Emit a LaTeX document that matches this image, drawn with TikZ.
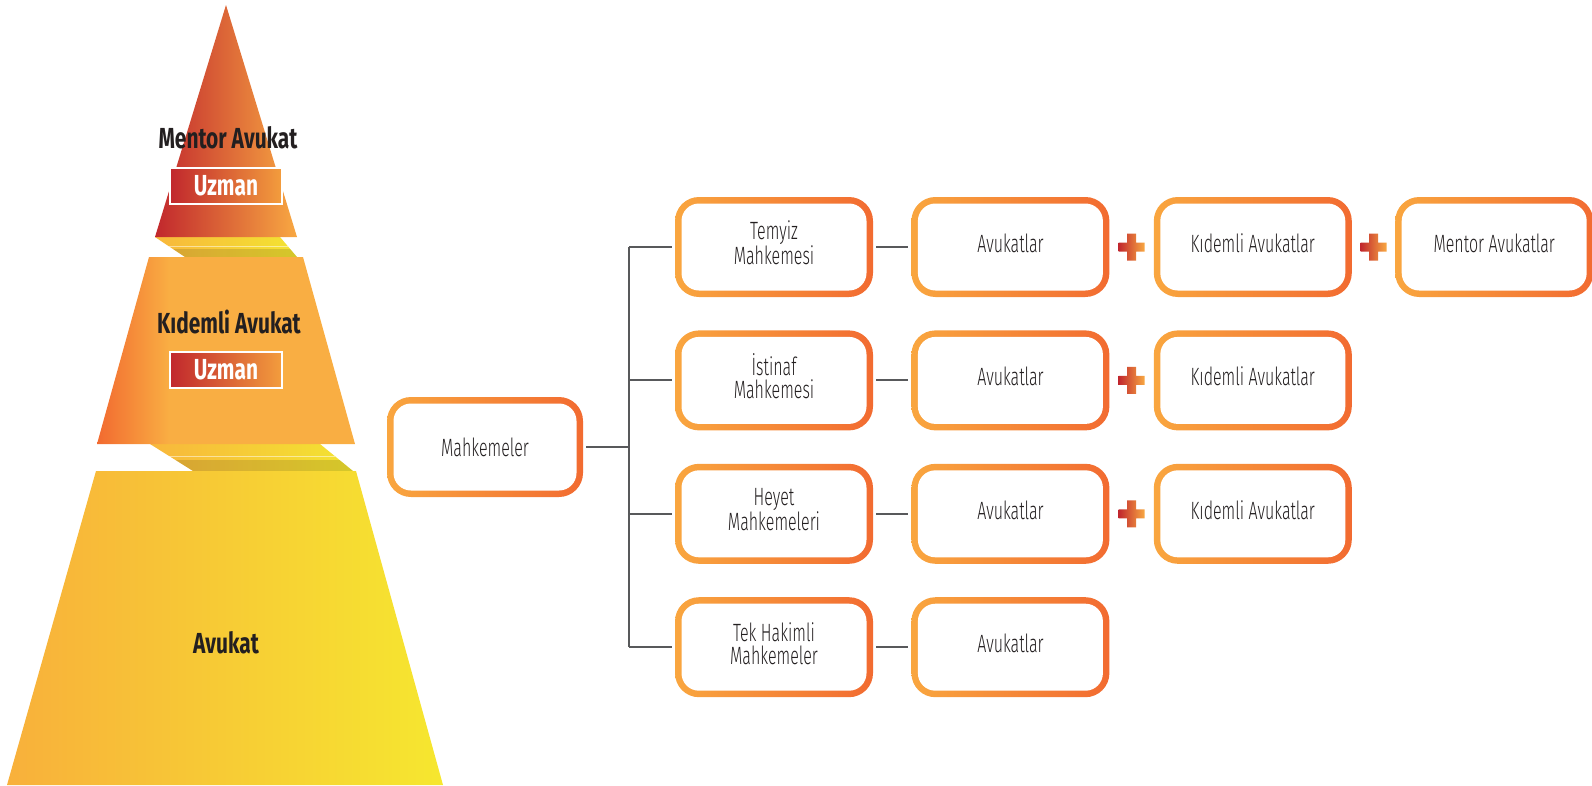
\documentclass[tikz,border=0pt]{standalone}
\usepackage{fontspec}
\setmainfont{Fira Sans}
\newfontfamily\courtfont{Fira Sans Light}[FakeStretch=0.64]
\newfontfamily\levelfont{Fira Sans}[FakeStretch=0.72]
\usetikzlibrary{positioning,calc}

\definecolor{bordL}{HTML}{F9A63F}
\definecolor{bordR}{HTML}{F26B31}
\definecolor{redL}{HTML}{C1272D}
\definecolor{orgR}{HTML}{F8A842}
\definecolor{uzR}{HTML}{F39D3D}
\definecolor{kdL}{HTML}{F26A30}
\definecolor{kdR}{HTML}{F9AE43}
\definecolor{avL}{HTML}{F8B03B}
\definecolor{avR}{HTML}{F6E72F}
\definecolor{bandL}{HTML}{F8B73C}
\definecolor{bandR}{HTML}{F3E431}
\definecolor{txt}{HTML}{231F20}
\definecolor{wire}{HTML}{58595B}

% deep orange only along the left edge
\pgfdeclarehorizontalshading{kidemli}{100bp}{color(0bp)=(kdL); color(25bp)=(kdL); color(39bp)=(kdR); color(100bp)=(kdR)}

\tikzset{
  plussign/.pic={
    \shade[left color=redL, right color=orgR]
      (-13pt,-4.5pt) rectangle (13pt,4.5pt)
      (-4.5pt,-13.5pt) rectangle (4.5pt,13.5pt);
  }
}

\begin{document}
\begin{tikzpicture}[x=1pt,y=-1pt,
  court/.style={rectangle, rounded corners=24pt, minimum width=198pt, minimum height=100pt,
    inner sep=0pt, align=center, left color=bordL, right color=bordR, text=txt,
    font={\courtfont\fontsize{25}{23}\selectfont},
    path picture={\fill[white, rounded corners=17.5pt]
      ([shift={(6.5pt,-6.5pt)}]path picture bounding box.north west) rectangle
      ([shift={(-6.5pt,6.5pt)}]path picture bounding box.south east);}},
  row/.style={court, text depth=8pt},
  level/.style={anchor=base, text=txt, font={\levelfont\bfseries\fontsize{29}{29}\selectfont}},
  uzman/.style={draw=white, line width=1.5pt, minimum width=112pt, minimum height=36pt,
    inner sep=0pt, left color=redL, right color=uzR, text=white,
    font={\levelfont\bfseries\fontsize{29}{29}\selectfont}},
  link/.style={draw=wire, line width=2pt, shorten <=3pt, shorten >=3pt}]
  \useasboundingbox (0,0) rectangle (1592,785);

  %pyramid
  \coordinate (ua) at (155,237); \coordinate (ub) at (280,237);
  \coordinate (uc) at (297,257); \coordinate (ud) at (185,257);
  \coordinate (la) at (150,444); \coordinate (lb) at (320,444);
  \coordinate (lc) at (353,471); \coordinate (ld) at (193,471);
  \shade[left color=bandL, right color=bandR] (ua) -- (ub) -- (uc) -- (ud) -- cycle;
  \fill[black, opacity=.12] ($(ua)!.6!(ud)$) -- ($(ub)!.6!(uc)$) -- (uc) -- (ud) -- cycle;
  \draw[white, opacity=.5, line width=1pt] ($(ua)!.45!(ud)$) -- ($(ub)!.45!(uc)$);
  \shade[left color=bandL, right color=bandR] (la) -- (lb) -- (lc) -- (ld) -- cycle;
  \fill[black, opacity=.12] ($(la)!.6!(ld)$) -- ($(lb)!.6!(lc)$) -- (lc) -- (ld) -- cycle;
  \draw[white, opacity=.5, line width=1pt] ($(la)!.45!(ld)$) -- ($(lb)!.45!(lc)$);

  \shade[left color=redL, right color=orgR] (226,5) -- (297,237) -- (155,237) -- cycle;
  \shade[shading=kidemli] (149,257) -- (303,257) -- (355,444) -- (97,444) -- cycle;
  \shade[left color=avL, right color=avR] (96,471) -- (356,471) -- (443,785) -- (7,785) -- cycle;

  \node[level] (mentor) at (228,148) {Mentor Avukat};
  \node[uzman] (uz1) at (226,186) {Uzman};
  \node[level] (kidemli) at (229,333) {Kıdemli Avukat};
  \node[uzman] (uz2) at (226,370) {Uzman};
  \node[level] (avukat) at (226,653) {Avukat};

  %courts
  \node[court, minimum width=196pt] (mah) at (485,447) {Mahkemeler};
  \node[row] (t1) at (774,247) {Temyiz\\Mahkemesi};
  \node[row, below=33pt of t1] (t2) {İstinaf\\Mahkemesi};
  \node[row, below=33pt of t2] (t3) {Heyet\\Mahkemeleri};
  \node[row, below=33pt of t3] (t4) {Tek Hakimli\\Mahkemeler};

  \node[row, right=38pt of t1] (a1) {Avukatlar};
  \node[row, right=44pt of a1] (k1) {Kıdemli Avukatlar};
  \node[row, right=43pt of k1] (m1) {Mentor Avukatlar};
  \node[row, right=38pt of t2] (a2) {Avukatlar};
  \node[row, right=44pt of a2] (k2) {Kıdemli Avukatlar};
  \node[row, right=38pt of t3] (a3) {Avukatlar};
  \node[row, right=44pt of a3] (k3) {Kıdemli Avukatlar};
  \node[row, right=38pt of t4] (a4) {Avukatlar};

  \pic at ($(a1.east)!.5!(k1.west)$) {plussign};
  \pic at ($(k1.east)!.5!(m1.west)$) {plussign};
  \pic at ($(a2.east)!.5!(k2.west)$) {plussign};
  \pic at ($(a3.east)!.5!(k3.west)$) {plussign};

  %connectors
  \coordinate (trunk) at ($(mah.east)!.5!(t1.west)$);
  \draw[link, shorten >=0pt] (mah.east) -- (mah.east -| trunk);
  \draw[wire, line width=2pt] (t1.west -| trunk) -- (t4.west -| trunk);
  \foreach \t in {t1,t2,t3,t4}
    \draw[link, shorten <=0pt] (\t.west -| trunk) -- (\t.west);
  \foreach \t/\a in {t1/a1,t2/a2,t3/a3,t4/a4}
    \draw[link] (\t) -- (\a);
\end{tikzpicture}
\end{document}
